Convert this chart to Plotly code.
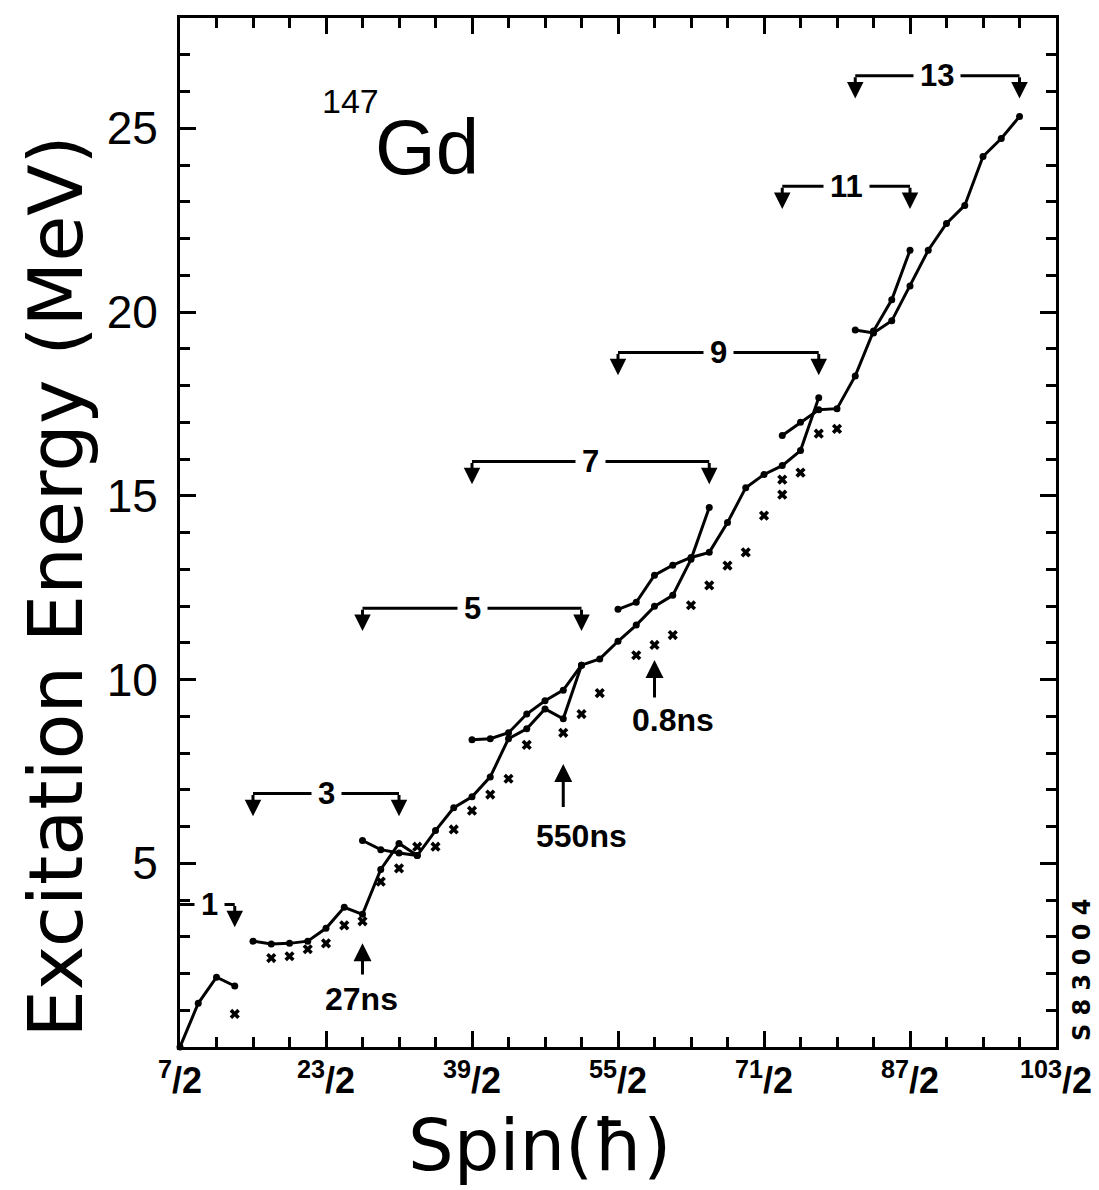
import plotly.graph_objects as go

# ---------------- data (spin in units of hbar, energy in MeV) ----------------
tick_spins = [3.5, 11.5, 19.5, 27.5, 35.5, 43.5, 51.5]
tick_num = ["7", "23", "39", "55", "71", "87", "103"]
y_ticks = [5, 10, 15, 20, 25]

seg1_J = [3.5, 4.5, 5.5, 6.5]
seg1_E = [0.0, 1.19, 1.90, 1.66]

yrast_J = [7.5, 8.5, 9.5, 10.5, 11.5, 12.5, 13.5, 14.5, 15.5, 16.5, 17.5, 18.5, 19.5,
           20.5, 21.5, 22.5, 23.5, 24.5, 25.5, 26.5, 27.5, 28.5, 29.5, 30.5, 31.5, 32.5]
yrast_E = [2.88, 2.80, 2.82, 2.88, 3.23, 3.80, 3.61, 4.83, 5.54, 5.21, 5.89, 6.51, 6.81,
           7.35, 8.39, 8.66, 9.20, 8.93, 10.39, 10.56, 11.04, 11.48, 11.99, 12.29, 13.27, 14.68]

b1_J = [13.5, 14.5, 15.5, 16.5]
b1_E = [5.62, 5.37, 5.28, 5.21]

b2_J = [19.5, 20.5, 21.5, 22.5, 23.5, 24.5, 25.5]
b2_E = [8.36, 8.39, 8.55, 9.06, 9.42, 9.71, 10.39]

b3_J = [27.5, 28.5, 29.5, 30.5, 31.5, 32.5, 33.5, 34.5, 35.5, 36.5, 37.5, 38.5]
b3_E = [11.91, 12.10, 12.84, 13.11, 13.32, 13.46, 14.27, 15.22, 15.58, 15.82, 16.23, 17.67]

b4_J = [36.5, 37.5, 38.5, 39.5, 40.5, 41.5, 42.5, 43.5]
b4_E = [16.64, 17.00, 17.34, 17.37, 18.26, 19.48, 20.33, 21.68]

b5_J = [40.5, 41.5, 42.5, 43.5, 44.5, 45.5, 46.5, 47.5, 48.5, 49.5]
b5_E = [19.51, 19.43, 19.76, 20.71, 21.68, 22.41, 22.90, 24.23, 24.72, 25.32]

calc_J = [6.5, 8.5, 9.5, 10.5, 11.5, 12.5, 13.5, 14.5, 15.5, 16.5, 17.5, 18.5, 19.5, 20.5,
          21.5, 22.5, 24.5, 25.5, 26.5, 28.5, 29.5, 30.5, 31.5, 32.5, 33.5, 34.5, 35.5,
          36.5, 36.5, 37.5, 38.5, 39.5]
calc_E = [0.90, 2.42, 2.47, 2.66, 2.82, 3.31, 3.42, 4.50, 4.86, 5.45, 5.45, 5.92, 6.43, 6.87,
          7.30, 8.22, 8.55, 9.06, 9.63, 10.66, 10.94, 11.21, 12.02, 12.56, 13.10, 13.46, 14.46,
          15.03, 15.44, 15.63, 16.69, 16.82]

# configuration brackets (number of particles)
br_labels = ["1", "3", "5", "7", "9", "11", "13"]
br_start = [3.5, 7.5, 13.5, 19.5, 27.5, 36.5, 40.5]
br_end = [6.5, 15.5, 25.5, 32.5, 38.5, 43.5, 49.5]
br_E = [3.88, 6.90, 11.94, 15.93, 18.90, 23.42, 26.43]

# isomers
iso_labels = ["27ns", "550ns", "0.8ns"]
iso_J = [13.5, 24.5, 29.5]
iso_tail = [1.93, 6.49, 9.47]
iso_tip = [2.82, 7.70, 10.53]
iso_text_J = [13.45, 25.5, 30.5]
iso_text_E = [1.30, 5.75, 8.90]

# ---------------- figure ----------------
fig = go.Figure()
line_style = dict(color="black", width=3)
marker_style = dict(color="black", size=7, symbol="circle")
for J, E in [(seg1_J, seg1_E), (yrast_J, yrast_E), (b1_J, b1_E), (b2_J, b2_E),
             (b3_J, b3_E), (b4_J, b4_E), (b5_J, b5_E)]:
    fig.add_trace(go.Scatter(x=J, y=E, mode="lines+markers", line=line_style,
                             marker=marker_style, cliponaxis=False, showlegend=False,
                             hoverinfo="skip"))

fig.add_trace(go.Scatter(x=calc_J, y=calc_E, mode="markers",
                         marker=dict(color="black", size=9, symbol="x"),
                         showlegend=False, hoverinfo="skip"))

shapes = []
annotations = []
drop = 0.62
for lab, j1, j2, e in zip(br_labels, br_start, br_end, br_E):
    shapes.append(dict(type="line", xref="x", yref="y", x0=j1, x1=j2, y0=e, y1=e,
                       line=dict(color="black", width=3)))
    for j in (j1, j2):
        if j <= 3.5:
            continue
        annotations.append(dict(x=j, y=e - drop, ax=j, ay=e, xref="x", yref="y",
                                axref="x", ayref="y", text="", showarrow=True,
                                arrowhead=2, arrowsize=1.1, arrowwidth=3,
                                arrowcolor="black"))
    jm = (j1 + j2) / 2 if j1 > 3.5 else 5.1
    annotations.append(dict(x=jm, y=e, xref="x", yref="y", text="<b>" + lab + "</b>",
                            showarrow=False, bgcolor="white", borderpad=6,
                            font=dict(family="Liberation Sans", size=31, color="black")))

for lab, j, t0, t1, tj, te in zip(iso_labels, iso_J, iso_tail, iso_tip, iso_text_J, iso_text_E):
    annotations.append(dict(x=j, y=t1, ax=j, ay=t0, xref="x", yref="y", axref="x",
                            ayref="y", text="", showarrow=True, arrowhead=2,
                            arrowsize=1.2, arrowwidth=3, arrowcolor="black"))
    annotations.append(dict(x=tj, y=te, xref="x", yref="y", text="<b>" + lab + "</b>",
                            showarrow=False,
                            font=dict(family="Liberation Sans", size=32, color="black")))

# nucleus label
annotations.append(dict(x=11.15, y=25.75, xref="x", yref="y", xanchor="left",
                        yanchor="middle", text="147", showarrow=False,
                        font=dict(family="Liberation Sans", size=34, color="black")))
annotations.append(dict(x=14.1, y=24.5, xref="x", yref="y", xanchor="left",
                        yanchor="middle", text="Gd", showarrow=False,
                        font=dict(family="Liberation Sans", size=78, color="black")))

annotations.append(dict(x=-0.142, y=0.448, xref="paper", yref="paper",
                        xanchor="center", yanchor="middle",
                        text="Excitation Energy (MeV)", textangle=-90, showarrow=False,
                        font=dict(family="DejaVu Sans", size=75, color="black")))
annotations.append(dict(x=0.41, y=-0.095, xref="paper", yref="paper",
                        xanchor="center", yanchor="middle",
                        text="Spin(\u0127)", showarrow=False,
                        font=dict(family="DejaVu Sans", size=72, color="black")))
annotations.append(dict(x=1.03, y=0.075, xref="paper", yref="paper",
                        xanchor="center", yanchor="middle",
                        text="<b>S 8 3 0 0 4</b>", textangle=-90,
                        showarrow=False,
                        font=dict(family="DejaVu Sans", size=24, color="black")))

tick_text = ["<b><sup>%s</sup>/2</b>" % n for n in tick_num]

fig.update_layout(
    width=1091, height=1182,
    margin=dict(l=172, r=35, t=7, b=143),
    paper_bgcolor="white", plot_bgcolor="white",
    shapes=shapes, annotations=annotations,
    xaxis=dict(range=[3.5, 51.5], tickvals=tick_spins, ticktext=tick_text,
               ticks="inside", ticklen=16, tickwidth=3, tickcolor="black",
               showline=True, linewidth=3, linecolor="black", mirror="ticks",
               showgrid=False, zeroline=False, ticklabelstandoff=0,
               ticklabeloverflow="allow",
               tickfont=dict(family="Liberation Sans", size=36, color="black"),
               minor=dict(tick0=3.5, dtick=2, ticks="inside", ticklen=10,
                          tickwidth=3, tickcolor="black", showgrid=False)),
    yaxis=dict(range=[0, 28], tickvals=y_ticks, ticks="inside", ticklen=16, tickwidth=3,
               tickcolor="black", showline=True, linewidth=3, linecolor="black",
               mirror="ticks", showgrid=False, zeroline=False, ticklabelstandoff=10,
               tickfont=dict(family="Liberation Sans", size=46, color="black"),
               minor=dict(dtick=1, ticks="inside", ticklen=10, tickwidth=3,
                          tickcolor="black", showgrid=False)),
)

fig.write_html("out.html")
